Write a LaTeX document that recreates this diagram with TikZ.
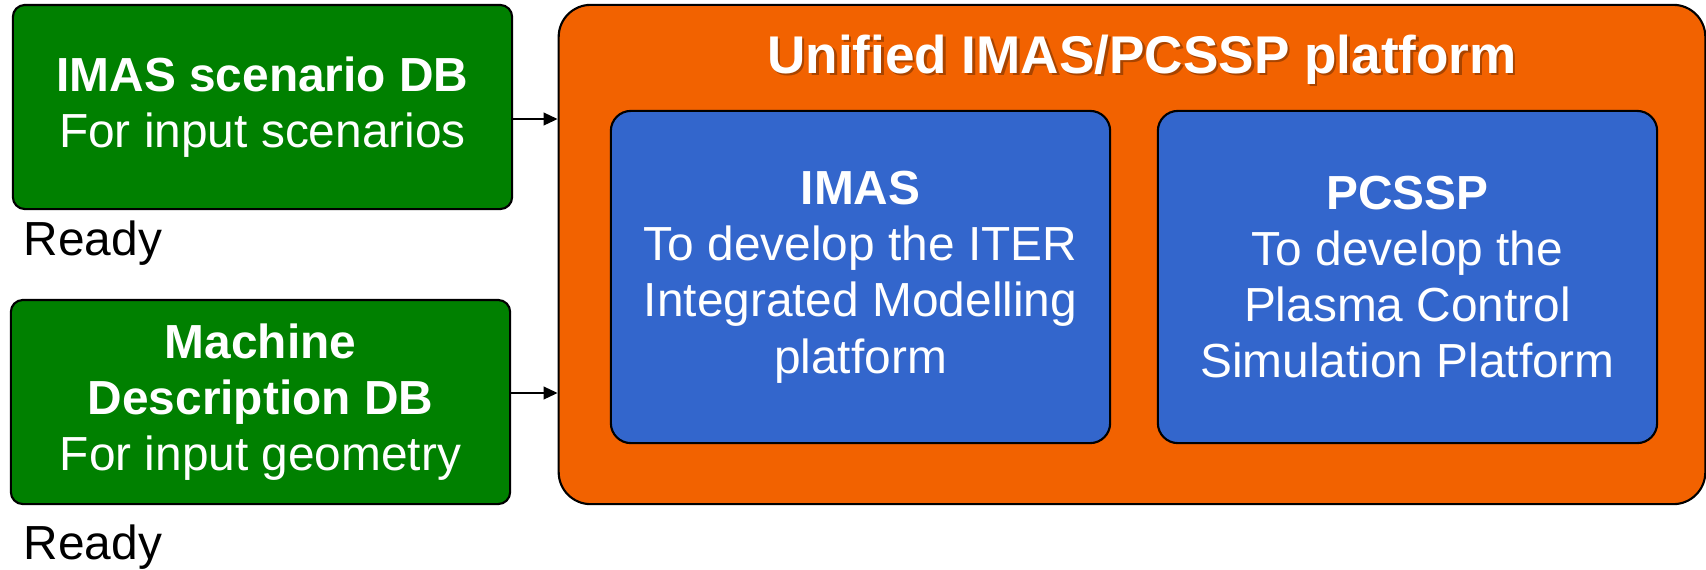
\documentclass[tikz,border=0pt]{standalone}
\usepackage{fontspec}
\setmainfont{Liberation Sans}
\usetikzlibrary{arrows.meta}
\usepackage{xcolor}
\definecolor{dbgreen}{RGB}{0,128,0}
\definecolor{platorange}{RGB}{242,98,0}
\definecolor{toolblue}{RGB}{51,102,204}

\begin{document}
\begin{tikzpicture}[
    x=0.01cm, y=-0.01cm,
    bodyfont/.style={font=\fontsize{13.6}{16}\selectfont},
    dbbox/.style={draw=black, line width=0.6pt, fill=dbgreen, rounded corners=0.12cm,
        minimum width=4.99cm, minimum height=2.04cm, inner sep=0pt,
        align=center, text=white, bodyfont},
    toolbox/.style={draw=black, line width=0.6pt, fill=toolblue, rounded corners=0.2cm,
        minimum width=4.99cm, minimum height=3.32cm, inner sep=0pt,
        align=center, text=white, bodyfont},
    status/.style={anchor=base west, inner sep=0pt, bodyfont},
    feed/.style={-{Triangle[length=4pt,width=3.6pt]}, line width=0.6pt}
]
\useasboundingbox (0,0) rectangle (1706,569);

% outer platform
\node[draw=black, line width=0.6pt, fill=platorange, rounded corners=0.32cm,
    minimum width=11.46cm, minimum height=4.99cm] (platform) at (1132,254.5) {};
\node[anchor=base, inner sep=0pt, text=black, opacity=0.3,
    font=\fontsize{15.1}{18}\selectfont\bfseries] (titleshadow) at (1144.5,75.5)
    {Unified IMAS/PCSSP platform};
\node[anchor=base, inner sep=0pt, text=white,
    font=\fontsize{15.1}{18}\selectfont\bfseries] (title) at (1142,73)
    {Unified IMAS/PCSSP platform};

% the two tools
\node[toolbox] (imas) at (860.5,277)
    {\textbf{IMAS}\\To develop the ITER\\Integrated Modelling\\platform};
\node[toolbox] (pcssp) at (1407.5,277)
    {\textbf{PCSSP}\\To develop the\\Plasma Control\\Simulation Platform};

% input databases
\node[dbbox] (scen) at (262.5,107) {\textbf{IMAS scenario DB}\\For input scenarios};
\node[dbbox] (mdesc) at (260.5,402) {\textbf{Machine}\\\textbf{Description DB}\\For input geometry};
\node[status] (scenready) at (23,255) {Ready};
\node[status] (mdescready) at (23,559) {Ready};

% feeds into the platform
\draw[feed] ([yshift=-0.12cm]scen.east) -- ([yshift=-0.12cm]scen.east -| platform.west);
\draw[feed] ([yshift=0.09cm]mdesc.east) -- ([yshift=0.09cm]mdesc.east -| platform.west);

\end{tikzpicture}
\end{document}
